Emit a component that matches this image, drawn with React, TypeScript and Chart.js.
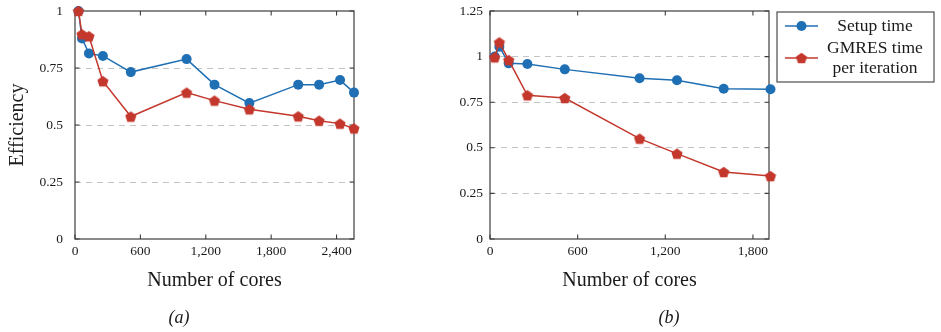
import React, { useEffect, useRef } from "react";
import { Chart, registerables } from "chart.js";

Chart.register(...registerables);

// ---- data: panel (a) ----
const coresA = [32, 64, 128, 256, 512, 1024, 1280, 1600, 2048, 2240, 2432, 2560];
const setupA = [1.0, 0.879, 0.814, 0.803, 0.732, 0.789, 0.677, 0.596, 0.677, 0.677, 0.697, 0.642];
const gmresA = [1.0, 0.898, 0.889, 0.692, 0.537, 0.642, 0.607, 0.569, 0.538, 0.519, 0.506, 0.485];
const xTicksA = [0, 600, 1200, 1800, 2400];
const yTicksA = [0, 0.25, 0.5, 0.75, 1];

// ---- data: panel (b) ----
const coresB = [32, 64, 128, 256, 512, 1024, 1280, 1600, 1920];
const setupB = [1.0, 1.054, 0.963, 0.959, 0.93, 0.881, 0.87, 0.824, 0.821];
const gmresB = [0.996, 1.078, 0.981, 0.788, 0.773, 0.55, 0.468, 0.367, 0.345];
const xTicksB = [0, 600, 1200, 1800];
const yTicksB = [0, 0.25, 0.5, 0.75, 1, 1.25];

const seriesNames = ["Setup time", "GMRES time per iteration"];
const legendLines = [["Setup time"], ["GMRES time", "per iteration"]];
const xTitle = "Number of cores";
const yTitle = "Efficiency";

const FONT = "'Liberation Serif', 'Times New Roman', serif";
const BLUE = "#1f6fb4";
const RED = "#c4372c";
const AXIS = "#3c3c3c";
const GRID = "#c4c4c4";
const TEXT = "#1a1a1a";

function makePentagon(color: string, r: number) {
  const size = Math.ceil(r * 2 + 2);
  const c = document.createElement("canvas");
  c.width = size;
  c.height = size;
  const ctx = c.getContext("2d")!;
  ctx.fillStyle = color;
  ctx.beginPath();
  for (let i = 0; i < 5; i++) {
    const a = -Math.PI / 2 + (i * 2 * Math.PI) / 5;
    const x = size / 2 + r * Math.cos(a);
    const y = size / 2 + 0.6 + r * Math.sin(a);
    if (i === 0) ctx.moveTo(x, y);
    else ctx.lineTo(x, y);
  }
  ctx.closePath();
  ctx.fill();
  return c;
}

type Cfg = {
  cores: number[];
  setup: number[];
  gmres: number[];
  xTicks: number[];
  yTicks: number[];
  xMax: number;
  yMax: number;
  yWidth: number;
  padRight: number;
  yGap: number;
  caption: string;
  captionX: number;
  showYTitle: boolean;
  showLegend: boolean;
};

function buildChart(canvas: HTMLCanvasElement, cfg: Cfg) {
  const pent = makePentagon(RED, 5.9);

  const deco = {
    id: "deco",
    beforeDatasetsDraw(chart: any) {
      const { ctx, chartArea: a, scales } = chart;
      ctx.save();
      ctx.strokeStyle = AXIS;
      ctx.lineWidth = 1.1;
      ctx.beginPath();
      for (const v of cfg.xTicks) {
        const x = scales.x.getPixelForValue(v);
        ctx.moveTo(x, a.bottom);
        ctx.lineTo(x, a.bottom - 4.5);
        ctx.moveTo(x, a.top);
        ctx.lineTo(x, a.top + 4.5);
      }
      for (const v of cfg.yTicks) {
        const y = scales.y.getPixelForValue(v);
        ctx.moveTo(a.left, y);
        ctx.lineTo(a.left + 4.5, y);
        ctx.moveTo(a.right, y);
        ctx.lineTo(a.right - 4.5, y);
      }
      ctx.stroke();
      ctx.lineWidth = 1.2;
      ctx.strokeRect(a.left, a.top, a.right - a.left, a.bottom - a.top);
      ctx.restore();
    },
    afterDraw(chart: any) {
      const { ctx, chartArea: a } = chart;
      ctx.save();
      ctx.fillStyle = TEXT;
      ctx.textAlign = "center";
      ctx.textBaseline = "middle";
      ctx.font = `20px ${FONT}`;
      ctx.fillText(xTitle, (a.left + a.right) / 2, 281);
      if (cfg.showYTitle) {
        ctx.save();
        ctx.translate(18, (a.top + a.bottom) / 2);
        ctx.rotate(-Math.PI / 2);
        ctx.fillText(yTitle, 0, 0);
        ctx.restore();
      }
      ctx.font = `italic 18px ${FONT}`;
      ctx.fillText(cfg.caption, cfg.captionX, 318);

      if (cfg.showLegend) {
        const bx = 337, by = 12, bw = 157, bh = 70;
        ctx.strokeStyle = AXIS;
        ctx.lineWidth = 1.1;
        ctx.strokeRect(bx, by, bw, bh);
        const rows = [
          { color: BLUE, y: 26, circle: true, texts: legendLines[0], ty: [26] },
          { color: RED, y: 58, circle: false, texts: legendLines[1], ty: [48, 68] },
        ];
        for (const r of rows) {
          ctx.strokeStyle = r.color;
          ctx.lineWidth = 1.5;
          ctx.beginPath();
          ctx.moveTo(345, r.y);
          ctx.lineTo(378, r.y);
          ctx.stroke();
          if (r.circle) {
            ctx.fillStyle = r.color;
            ctx.beginPath();
            ctx.arc(361.5, r.y, 5, 0, Math.PI * 2);
            ctx.fill();
          } else {
            ctx.drawImage(pent, 361.5 - pent.width / 2, r.y - pent.height / 2);
          }
          ctx.fillStyle = TEXT;
          ctx.font = `17.5px ${FONT}`;
          r.texts.forEach((t, i) => ctx.fillText(t, 435, r.ty[i]));
        }
      }
      ctx.restore();
    },
  };

  return new Chart(canvas, {
    type: "line",
    data: {
      datasets: [
        {
          label: seriesNames[0],
          data: cfg.cores.map((c, i) => ({ x: c, y: cfg.setup[i] })),
          borderColor: BLUE,
          backgroundColor: BLUE,
          pointStyle: "circle",
          pointRadius: 5,
          pointBorderWidth: 0,
          borderWidth: 1.5,
          clip: false,
          order: 1,
        },
        {
          label: seriesNames[1],
          data: cfg.cores.map((c, i) => ({ x: c, y: cfg.gmres[i] })),
          borderColor: RED,
          backgroundColor: RED,
          pointStyle: pent as any,
          pointRadius: 5,
          borderWidth: 1.5,
          clip: false,
          order: 0,
        },
      ],
    },
    options: {
      responsive: false,
      animation: false,
      events: [],
      layout: { padding: { top: 11, right: cfg.padRight, left: 0, bottom: 0 } },
      plugins: { legend: { display: false }, tooltip: { enabled: false } },
      scales: {
        x: {
          type: "linear",
          min: 0,
          max: cfg.xMax,
          afterFit: (s: any) => {
            s.height = 93;
            s.paddingLeft = 0;
            s.paddingRight = 0;
          },
          afterBuildTicks: (s: any) => {
            s.ticks = cfg.xTicks.map((v) => ({ value: v }));
          },
          ticks: {
            callback: (v: any) => Number(v).toLocaleString("en-US"),
            font: { family: FONT, size: 13.5 },
            color: TEXT,
            padding: 4,
            maxRotation: 0,
            autoSkip: false,
          },
          grid: { display: false, drawTicks: false },
          border: { display: false },
        },
        y: {
          type: "linear",
          min: 0,
          max: cfg.yMax,
          afterFit: (s: any) => {
            s.width = cfg.yWidth;
            s.paddingTop = 0;
            s.paddingBottom = 0;
          },
          afterBuildTicks: (s: any) => {
            s.ticks = cfg.yTicks.map((v) => ({ value: v }));
          },
          ticks: {
            callback: (v: any) => String(v),
            font: { family: FONT, size: 13.5 },
            color: TEXT,
            padding: cfg.yGap,
          },
          grid: {
            color: (c: any) =>
              c.tick && c.tick.value > 0 && c.tick.value < cfg.yMax ? GRID : "rgba(0,0,0,0)",
            drawTicks: false,
            lineWidth: 1,
          },
          border: { display: false, dash: [6, 5] },
        },
      },
    },
    plugins: [deco],
  } as any);
}

export default function App() {
  const refA = useRef<HTMLCanvasElement>(null);
  const refB = useRef<HTMLCanvasElement>(null);

  useEffect(() => {
    const a = buildChart(refA.current!, {
      cores: coresA,
      setup: setupA,
      gmres: gmresA,
      xTicks: xTicksA,
      yTicks: yTicksA,
      xMax: 2560,
      yMax: 1,
      yWidth: 75,
      padRight: 440 - 354,
      yGap: 12,
      caption: "(a)",
      captionX: 179,
      showYTitle: true,
      showLegend: false,
    });
    const b = buildChart(refB.current!, {
      cores: coresB,
      setup: setupB,
      gmres: gmresB,
      xTicks: xTicksB,
      yTicks: yTicksB,
      xMax: 1910,
      yMax: 1.25,
      yWidth: 50,
      padRight: 501 - 329,
      yGap: 7,
      caption: "(b)",
      captionX: 669 - 440,
      showYTitle: false,
      showLegend: true,
    });
    return () => {
      a.destroy();
      b.destroy();
    };
  }, []);

  return (
    <div style={{ position: "absolute", left: 0, top: 0, width: 941, height: 332, background: "#fff" }}>
      <canvas ref={refA} width={440} height={332} style={{ position: "absolute", left: 0, top: 0 }} />
      <canvas ref={refB} width={501} height={332} style={{ position: "absolute", left: 440, top: 0 }} />
    </div>
  );
}
